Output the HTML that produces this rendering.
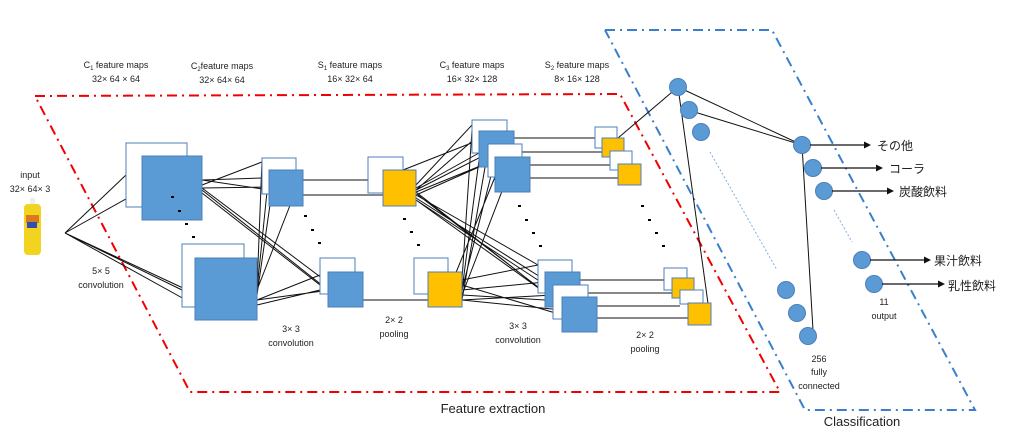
<!DOCTYPE html>
<html><head><meta charset="utf-8"><style>
html,body{margin:0;padding:0;background:#fff;}
svg{display:block;}
text{font-family:"Liberation Sans","Noto Sans CJK JP",sans-serif;fill:#222;}
.s{font-size:9px;}
.j{font-size:12px;}
</style></head><body>
<svg width="1011" height="447" viewBox="0 0 1011 447" xmlns="http://www.w3.org/2000/svg">
<!-- red parallelogram -->
<polyline points="35,96 620,94 780,392 190,392 35,96" fill="none" stroke="#f00000" stroke-width="2" stroke-dasharray="10,5,2,5"/>
<!-- blue parallelogram -->
<polyline points="605,30 772,30 975,410 805,410 605,30" fill="none" stroke="#3a7fc9" stroke-width="2" stroke-dasharray="10,5,2,5"/>

<!-- bottle -->
<rect x="30" y="198" width="5" height="6" fill="#eee"/>
<rect x="24" y="204" width="17" height="51" rx="4" fill="#f2d320"/>
<rect x="26" y="215" width="13" height="8" fill="#d97a20"/>
<rect x="27" y="222" width="10" height="6" fill="#3050b0"/>

<g stroke="#111" stroke-width="1" fill="none">
<!-- input lines -->
<path d="M65,233 L126,175 M65,233 L142,190 M65,233 L182,290 M65,233 L195,305 M65,233 L183,288"/>
<!-- C1 to C2 -->
<path d="M202,180 L262,178 M202,188 L269,187 M202,185 L262,162 M202,180 L296,194 M202,190 L328,290 M202,193 L320,285 M202,188 L335,288"/>
<path d="M257,290 L262,160 M257,290 L269,172 M257,295 L275,170 M257,300 L330,290 M257,305 L320,290 M257,300 L320,275 M257,290 L296,190"/>
<!-- C2 to S1 -->
<path d="M303,180 L368,180 M303,195 L383,195 M363,300 L428,300"/>
<!-- S1 to C3 -->
<path d="M416,185 L472,125 M416,190 L479,135 M416,188 L488,148 M416,192 L495,160 M403,170 L479,140 M416,195 L506,155 M416,190 L514,140"/>
<path d="M416,195 L538,265 M416,198 L545,280 M416,200 L553,290 M416,200 L562,305 M418,195 L555,300 M416,192 L548,295"/>
<path d="M462,280 L472,130 M462,290 L479,160 M462,300 L488,150 M462,290 L495,160 M455,275 L506,150 M462,295 L514,160"/>
<path d="M462,280 L538,265 M462,290 L545,282 M462,300 L553,295 M462,300 L562,310 M462,285 L562,315 M462,295 L545,300"/>
<!-- C3 to S2 -->
<path d="M506,138 L595,138 M514,152 L602,152 M522,165 L610,165 M530,178 L618,178"/>
<path d="M572,280 L664,280 M580,293 L672,293 M588,306 L680,306 M597,318 L688,318"/>
<!-- S2 to FC -->
<path d="M618,138 L678,87 M678,87 L711,325 M678,87 L802,145 M688,110 L802,145 M802,145 L813,330"/>
</g>

<!-- C1 -->
<rect x="126" y="143" width="61" height="64" fill="#fff" stroke="#4d7fb8"/>
<rect x="142" y="156" width="60" height="64" fill="#5b9bd5" stroke="#4d7fb8"/>
<rect x="182" y="244" width="62" height="63" fill="#fff" stroke="#4d7fb8"/>
<rect x="195" y="258" width="62" height="62" fill="#5b9bd5" stroke="#4d7fb8"/>
<!-- C2 -->
<rect x="262" y="158" width="34" height="36" fill="#fff" stroke="#4d7fb8"/>
<rect x="269" y="170" width="34" height="36" fill="#5b9bd5" stroke="#4d7fb8"/>
<rect x="320" y="258" width="35" height="36" fill="#fff" stroke="#4d7fb8"/>
<rect x="328" y="272" width="35" height="35" fill="#5b9bd5" stroke="#4d7fb8"/>
<!-- S1 -->
<rect x="368" y="157" width="35" height="36" fill="#fff" stroke="#4d7fb8"/>
<rect x="383" y="170" width="33" height="36" fill="#ffc000" stroke="#4d7fb8"/>
<rect x="414" y="258" width="34" height="36" fill="#fff" stroke="#4d7fb8"/>
<rect x="428" y="272" width="34" height="35" fill="#ffc000" stroke="#4d7fb8"/>
<!-- C3 -->
<rect x="472" y="120" width="35" height="33" fill="#fff" stroke="#4d7fb8"/>
<rect x="479" y="131" width="35" height="36" fill="#5b9bd5" stroke="#4d7fb8"/>
<rect x="488" y="144" width="34" height="33" fill="#fff" stroke="#4d7fb8"/>
<rect x="495" y="157" width="35" height="35" fill="#5b9bd5" stroke="#4d7fb8"/>
<rect x="538" y="260" width="34" height="33" fill="#fff" stroke="#4d7fb8"/>
<rect x="545" y="272" width="35" height="35" fill="#5b9bd5" stroke="#4d7fb8"/>
<rect x="553" y="285" width="35" height="34" fill="#fff" stroke="#4d7fb8"/>
<rect x="562" y="297" width="35" height="35" fill="#5b9bd5" stroke="#4d7fb8"/>
<!-- S2 -->
<rect x="595" y="127" width="22" height="21" fill="#fff" stroke="#4d7fb8"/>
<rect x="602" y="138" width="22" height="19" fill="#ffc000" stroke="#4d7fb8"/>
<rect x="610" y="151" width="22" height="19" fill="#fff" stroke="#4d7fb8"/>
<rect x="618" y="164" width="23" height="21" fill="#ffc000" stroke="#4d7fb8"/>
<rect x="664" y="268" width="23" height="22" fill="#fff" stroke="#4d7fb8"/>
<rect x="672" y="278" width="22" height="20" fill="#ffc000" stroke="#4d7fb8"/>
<rect x="680" y="290" width="23" height="14" fill="#fff" stroke="#4d7fb8"/>
<rect x="688" y="303" width="23" height="22" fill="#ffc000" stroke="#4d7fb8"/>

<!-- dots -->
<g fill="#000">
<rect x="171" y="196" width="3" height="2"/><rect x="178" y="210" width="3" height="2"/><rect x="185" y="223" width="3" height="2"/><rect x="192" y="236" width="3" height="2"/>
<rect x="304" y="215" width="3" height="2"/><rect x="311" y="229" width="3" height="2"/><rect x="318" y="242" width="3" height="2"/>
<rect x="403" y="218" width="3" height="2"/><rect x="410" y="231" width="3" height="2"/><rect x="417" y="244" width="3" height="2"/>
<rect x="518" y="205" width="3" height="2"/><rect x="525" y="219" width="3" height="2"/><rect x="532" y="232" width="3" height="2"/><rect x="539" y="245" width="3" height="2"/>
<rect x="641" y="205" width="3" height="2"/><rect x="648" y="219" width="3" height="2"/><rect x="655" y="232" width="3" height="2"/><rect x="662" y="245" width="3" height="2"/>
</g>

<!-- dotted light blue -->
<path d="M710,152 L777,270 M834,210 L852,242" stroke="#7fb0e0" stroke-width="1" stroke-dasharray="2,2" fill="none"/>

<!-- circles -->
<g fill="#5b9bd5" stroke="#4d7fb8">
<circle cx="678" cy="87" r="8.5"/><circle cx="689" cy="110" r="8.5"/><circle cx="701" cy="132" r="8.5"/>
<circle cx="786" cy="290" r="8.5"/><circle cx="797" cy="313" r="8.5"/><circle cx="808" cy="336" r="8.5"/>
<circle cx="802" cy="145" r="8.5"/><circle cx="813" cy="168" r="8.5"/><circle cx="824" cy="191" r="8.5"/>
<circle cx="862" cy="260" r="8.5"/><circle cx="874" cy="284" r="8.5"/>
</g>
<!-- arrows -->
<g stroke="#111" stroke-width="1.2">
<line x1="810" y1="145" x2="866" y2="145"/><line x1="821" y1="168" x2="878" y2="168"/><line x1="832" y1="191" x2="889" y2="191"/>
<line x1="870" y1="260" x2="926" y2="260"/><line x1="882" y1="284" x2="940" y2="284"/>
</g>
<g fill="#111">
<polygon points="871,145 864,141.5 864,148.5"/><polygon points="883,168 876,164.5 876,171.5"/><polygon points="894,191 887,187.5 887,194.5"/>
<polygon points="931,260 924,256.5 924,263.5"/><polygon points="945,284 938,280.5 938,287.5"/>
</g>
<text class="j" x="877" y="150">その他</text>
<text class="j" x="889" y="173">コーラ</text>
<text class="j" x="899" y="196">炭酸飲料</text>
<text class="j" x="934" y="265">果汁飲料</text>
<text class="j" x="948" y="290">乳性飲料</text>

<!-- labels -->
<g class="s" text-anchor="middle">
<text x="116" y="68">C<tspan font-size="6" dy="2">1</tspan><tspan dy="-2"> feature maps</tspan></text><text x="116" y="82">32× 64 × 64</text>
<text x="222" y="69">C<tspan font-size="6" dy="2">2</tspan><tspan dy="-2">feature maps</tspan></text><text x="222" y="83">32× 64× 64</text>
<text x="350" y="68">S<tspan font-size="6" dy="2">1</tspan><tspan dy="-2"> feature maps</tspan></text><text x="350" y="82">16× 32× 64</text>
<text x="472" y="68">C<tspan font-size="6" dy="2">3</tspan><tspan dy="-2"> feature maps</tspan></text><text x="472" y="82">16× 32× 128</text>
<text x="577" y="68">S<tspan font-size="6" dy="2">2</tspan><tspan dy="-2"> feature maps</tspan></text><text x="577" y="82">8× 16× 128</text>
<text x="30" y="178">input</text><text x="30" y="192">32× 64× 3</text>
<text x="101" y="274">5× 5</text><text x="101" y="288">convolution</text>
<text x="291" y="332">3× 3</text><text x="291" y="346">convolution</text>
<text x="394" y="323">2× 2</text><text x="394" y="337">pooling</text>
<text x="518" y="329">3× 3</text><text x="518" y="343">convolution</text>
<text x="645" y="338">2× 2</text><text x="645" y="352">pooling</text>
<text x="819" y="362">256</text><text x="819" y="375">fully</text><text x="819" y="389">connected</text>
<text x="884" y="305">11</text><text x="884" y="319">output</text>
</g>
<text x="493" y="413" font-size="13" text-anchor="middle">Feature extraction</text>
<text x="862" y="426" font-size="13" text-anchor="middle">Classification</text>
</svg>
</body></html>
